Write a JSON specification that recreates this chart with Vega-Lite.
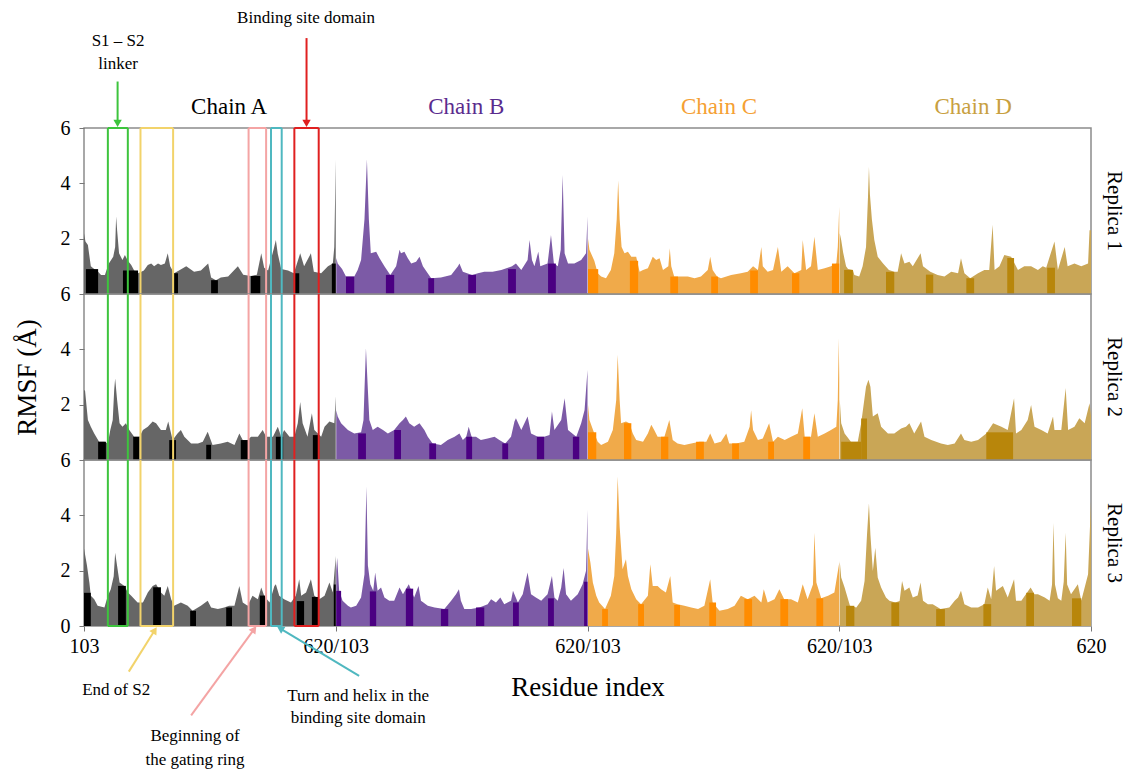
{
"$schema": "https://vega.github.io/schema/vega-lite/v6.json",
"background": "white",
"padding": {"left": 12, "top": 8, "right": 0, "bottom": 0},
"bounds": "flush",
"spacing": 0,
"config": {
  "font": "Liberation Serif",
  "view": {"stroke": "#8c8c8c", "strokeWidth": 1.5},
  "axis": {"labelFont": "Liberation Serif", "labelFontSize": 20, "labelColor": "#000", "titleFont": "Liberation Serif", "titleFontSize": 27, "titleFontWeight": "normal", "titleColor": "#000", "tickColor": "#777", "tickSize": 5, "domain": false, "grid": false},
  "axisX": {"labelPadding": 5, "titlePadding": 18},
  "axisY": {"labelPadding": 9, "titlePadding": 19},
  "mark": {"font": "Liberation Serif"},
  "text": {"font": "Liberation Serif"}
},
"datasets": {
"r1": [
{"c":"A","g":0,"v":2.2},{"c":"A","g":3,"v":1.9},{"c":"A","g":8,"v":1.77},{"c":"A","g":14,"v":1.0},{"c":"A","g":21,"v":0.9},{"c":"A","g":29,"v":0.8},{"c":"A","g":35,"v":0.69},{"c":"A","g":43,"v":0.69},{"c":"A","g":47,"v":0.9},{"c":"A","g":51,"v":1.1},{"c":"A","g":60,"v":1.35},{"c":"A","g":64,"v":1.7},{"c":"A","g":66,"v":2.8},{"c":"A","g":68,"v":2.3},{"c":"A","g":72,"v":1.47},{"c":"A","g":79,"v":1.23},{"c":"A","g":84,"v":1.41},{"c":"A","g":90,"v":1.2},{"c":"A","g":97,"v":1.05},{"c":"A","g":103,"v":0.85},{"c":"A","g":111,"v":0.75},{"c":"A","g":123,"v":0.85},{"c":"A","g":131,"v":1.05},{"c":"A","g":138,"v":1.1},{"c":"A","g":144,"v":1.0},{"c":"A","g":152,"v":1.1},{"c":"A","g":158,"v":1.05},{"c":"A","g":166,"v":1.1},{"c":"A","g":172,"v":1.47},{"c":"A","g":177,"v":1.0},{"c":"A","g":185,"v":0.75},{"c":"A","g":195,"v":0.85},{"c":"A","g":210,"v":1.0},{"c":"A","g":226,"v":0.8},{"c":"A","g":240,"v":0.85},{"c":"A","g":255,"v":1.1},{"c":"A","g":261,"v":0.6},{"c":"A","g":271,"v":0.5},{"c":"A","g":281,"v":0.6},{"c":"A","g":296,"v":0.63},{"c":"A","g":316,"v":1.0},{"c":"A","g":327,"v":0.7},{"c":"A","g":343,"v":0.65},{"c":"A","g":355,"v":0.7},{"c":"A","g":364,"v":1.47},{"c":"A","g":370,"v":0.95},{"c":"A","g":378,"v":0.85},{"c":"A","g":390,"v":1.65},{"c":"A","g":394,"v":1.95},{"c":"A","g":398,"v":1.45},{"c":"A","g":405,"v":0.9},{"c":"A","g":419,"v":0.85},{"c":"A","g":431,"v":0.75},{"c":"A","g":444,"v":1.47},{"c":"A","g":452,"v":1.0},{"c":"A","g":466,"v":1.47},{"c":"A","g":472,"v":0.8},{"c":"A","g":487,"v":0.75},{"c":"A","g":501,"v":1.0},{"c":"A","g":511,"v":1.1},{"c":"A","g":514,"v":1.7},{"c":"A","g":517,"v":4.85},
{"c":"B","g":518,"v":1.3},{"c":"B","g":521,"v":1.1},{"c":"B","g":530,"v":0.9},{"c":"B","g":538,"v":0.63},{"c":"B","g":555,"v":0.63},{"c":"B","g":562,"v":0.87},{"c":"B","g":569,"v":1.23},{"c":"B","g":576,"v":2.7},{"c":"B","g":581,"v":4.87},{"c":"B","g":585,"v":2.7},{"c":"B","g":589,"v":1.47},{"c":"B","g":600,"v":1.53},{"c":"B","g":607,"v":1.29},{"c":"B","g":617,"v":1.0},{"c":"B","g":629,"v":0.69},{"c":"B","g":641,"v":1.0},{"c":"B","g":648,"v":1.6},{"c":"B","g":651,"v":1.47},{"c":"B","g":658,"v":1.53},{"c":"B","g":665,"v":1.29},{"c":"B","g":672,"v":1.1},{"c":"B","g":682,"v":1.17},{"c":"B","g":689,"v":1.35},{"c":"B","g":696,"v":1.0},{"c":"B","g":713,"v":0.57},{"c":"B","g":733,"v":0.6},{"c":"B","g":754,"v":0.69},{"c":"B","g":768,"v":1.0},{"c":"B","g":771,"v":1.1},{"c":"B","g":778,"v":0.8},{"c":"B","g":797,"v":0.69},{"c":"B","g":809,"v":0.75},{"c":"B","g":822,"v":0.8},{"c":"B","g":839,"v":0.8},{"c":"B","g":857,"v":0.87},{"c":"B","g":879,"v":1.0},{"c":"B","g":887,"v":1.1},{"c":"B","g":898,"v":0.87},{"c":"B","g":911,"v":1.23},{"c":"B","g":915,"v":1.95},{"c":"B","g":920,"v":1.23},{"c":"B","g":925,"v":1.0},{"c":"B","g":933,"v":1.53},{"c":"B","g":937,"v":1.0},{"c":"B","g":952,"v":1.1},{"c":"B","g":959,"v":2.13},{"c":"B","g":965,"v":1.1},{"c":"B","g":973,"v":1.0},{"c":"B","g":979,"v":1.6},{"c":"B","g":983,"v":4.3},{"c":"B","g":987,"v":1.47},{"c":"B","g":994,"v":1.1},{"c":"B","g":1007,"v":1.1},{"c":"B","g":1021,"v":1.23},{"c":"B","g":1031,"v":1.47},{"c":"B","g":1034,"v":2.8},
{"c":"C","g":1035,"v":2.0},{"c":"C","g":1038,"v":1.6},{"c":"C","g":1048,"v":1.2},{"c":"C","g":1055,"v":0.75},{"c":"C","g":1062,"v":0.63},{"c":"C","g":1072,"v":0.57},{"c":"C","g":1082,"v":0.87},{"c":"C","g":1089,"v":1.47},{"c":"C","g":1094,"v":2.7},{"c":"C","g":1097,"v":4.1},{"c":"C","g":1100,"v":2.7},{"c":"C","g":1104,"v":1.7},{"c":"C","g":1110,"v":1.47},{"c":"C","g":1117,"v":1.53},{"c":"C","g":1124,"v":1.35},{"c":"C","g":1134,"v":1.35},{"c":"C","g":1141,"v":0.8},{"c":"C","g":1148,"v":0.87},{"c":"C","g":1158,"v":0.93},{"c":"C","g":1168,"v":1.35},{"c":"C","g":1175,"v":1.23},{"c":"C","g":1182,"v":1.29},{"c":"C","g":1189,"v":0.87},{"c":"C","g":1200,"v":1.0},{"c":"C","g":1203,"v":1.65},{"c":"C","g":1206,"v":1.0},{"c":"C","g":1212,"v":0.63},{"c":"C","g":1226,"v":0.63},{"c":"C","g":1240,"v":0.63},{"c":"C","g":1254,"v":0.57},{"c":"C","g":1267,"v":0.63},{"c":"C","g":1281,"v":0.87},{"c":"C","g":1286,"v":1.35},{"c":"C","g":1291,"v":0.87},{"c":"C","g":1300,"v":0.63},{"c":"C","g":1308,"v":0.57},{"c":"C","g":1329,"v":0.69},{"c":"C","g":1349,"v":0.75},{"c":"C","g":1363,"v":0.8},{"c":"C","g":1374,"v":1.0},{"c":"C","g":1384,"v":0.87},{"c":"C","g":1391,"v":1.7},{"c":"C","g":1394,"v":1.0},{"c":"C","g":1404,"v":0.8},{"c":"C","g":1415,"v":0.87},{"c":"C","g":1425,"v":1.7},{"c":"C","g":1432,"v":0.8},{"c":"C","g":1445,"v":1.0},{"c":"C","g":1459,"v":0.75},{"c":"C","g":1473,"v":0.87},{"c":"C","g":1476,"v":1.95},{"c":"C","g":1483,"v":0.87},{"c":"C","g":1493,"v":1.0},{"c":"C","g":1500,"v":2.07},{"c":"C","g":1507,"v":0.87},{"c":"C","g":1521,"v":0.93},{"c":"C","g":1534,"v":1.0},{"c":"C","g":1545,"v":1.1},{"c":"C","g":1548,"v":1.7},{"c":"C","g":1551,"v":3.15},
{"c":"D","g":1552,"v":2.2},{"c":"D","g":1555,"v":1.95},{"c":"D","g":1559,"v":1.5},{"c":"D","g":1565,"v":1.0},{"c":"D","g":1569,"v":0.9},{"c":"D","g":1579,"v":0.87},{"c":"D","g":1582,"v":0.69},{"c":"D","g":1592,"v":0.63},{"c":"D","g":1599,"v":1.0},{"c":"D","g":1606,"v":1.7},{"c":"D","g":1610,"v":3.5},{"c":"D","g":1612,"v":4.6},{"c":"D","g":1614,"v":3.6},{"c":"D","g":1618,"v":2.7},{"c":"D","g":1623,"v":1.95},{"c":"D","g":1630,"v":1.35},{"c":"D","g":1641,"v":1.1},{"c":"D","g":1653,"v":0.87},{"c":"D","g":1664,"v":0.8},{"c":"D","g":1671,"v":0.8},{"c":"D","g":1678,"v":1.47},{"c":"D","g":1685,"v":1.1},{"c":"D","g":1695,"v":1.17},{"c":"D","g":1702,"v":1.0},{"c":"D","g":1718,"v":1.47},{"c":"D","g":1723,"v":1.0},{"c":"D","g":1738,"v":0.8},{"c":"D","g":1753,"v":0.69},{"c":"D","g":1767,"v":0.63},{"c":"D","g":1781,"v":0.8},{"c":"D","g":1795,"v":0.75},{"c":"D","g":1801,"v":1.29},{"c":"D","g":1808,"v":0.75},{"c":"D","g":1820,"v":0.57},{"c":"D","g":1836,"v":0.75},{"c":"D","g":1849,"v":0.87},{"c":"D","g":1859,"v":0.87},{"c":"D","g":1866,"v":2.5},{"c":"D","g":1870,"v":0.87},{"c":"D","g":1880,"v":1.0},{"c":"D","g":1890,"v":1.41},{"c":"D","g":1904,"v":1.35},{"c":"D","g":1918,"v":0.87},{"c":"D","g":1931,"v":1.0},{"c":"D","g":1945,"v":1.0},{"c":"D","g":1959,"v":0.87},{"c":"D","g":1969,"v":1.0},{"c":"D","g":1976,"v":0.95},{"c":"D","g":1993,"v":1.9},{"c":"D","g":2000,"v":0.87},{"c":"D","g":2014,"v":1.7},{"c":"D","g":2020,"v":1.0},{"c":"D","g":2034,"v":1.1},{"c":"D","g":2048,"v":1.0},{"c":"D","g":2062,"v":1.1},{"c":"D","g":2065,"v":2.3},{"c":"D","g":2068,"v":2.3}
],
"r2": [
{"c":"A","g":0,"v":2.5},{"c":"A","g":2,"v":2.53},{"c":"A","g":8,"v":1.45},{"c":"A","g":14,"v":1.2},{"c":"A","g":21,"v":0.96},{"c":"A","g":31,"v":0.66},{"c":"A","g":42,"v":0.66},{"c":"A","g":49,"v":0.6},{"c":"A","g":54,"v":1.08},{"c":"A","g":59,"v":1.45},{"c":"A","g":62,"v":2.53},{"c":"A","g":64,"v":2.95},{"c":"A","g":68,"v":2.17},{"c":"A","g":73,"v":1.33},{"c":"A","g":79,"v":1.2},{"c":"A","g":86,"v":1.33},{"c":"A","g":93,"v":1.08},{"c":"A","g":103,"v":0.84},{"c":"A","g":114,"v":0.84},{"c":"A","g":121,"v":1.08},{"c":"A","g":131,"v":1.2},{"c":"A","g":141,"v":1.39},{"c":"A","g":148,"v":1.33},{"c":"A","g":158,"v":1.08},{"c":"A","g":168,"v":1.08},{"c":"A","g":173,"v":1.39},{"c":"A","g":182,"v":0.72},{"c":"A","g":192,"v":0.96},{"c":"A","g":199,"v":1.08},{"c":"A","g":206,"v":0.84},{"c":"A","g":220,"v":0.6},{"c":"A","g":234,"v":0.6},{"c":"A","g":244,"v":0.66},{"c":"A","g":254,"v":1.02},{"c":"A","g":264,"v":0.54},{"c":"A","g":281,"v":0.6},{"c":"A","g":295,"v":0.66},{"c":"A","g":309,"v":0.54},{"c":"A","g":319,"v":0.96},{"c":"A","g":326,"v":0.72},{"c":"A","g":336,"v":0.72},{"c":"A","g":343,"v":0.84},{"c":"A","g":357,"v":0.84},{"c":"A","g":367,"v":1.08},{"c":"A","g":374,"v":0.84},{"c":"A","g":388,"v":0.84},{"c":"A","g":398,"v":1.2},{"c":"A","g":405,"v":0.84},{"c":"A","g":411,"v":1.08},{"c":"A","g":422,"v":0.84},{"c":"A","g":432,"v":0.84},{"c":"A","g":439,"v":1.33},{"c":"A","g":444,"v":2.1},{"c":"A","g":449,"v":1.33},{"c":"A","g":459,"v":0.84},{"c":"A","g":468,"v":1.69},{"c":"A","g":473,"v":1.08},{"c":"A","g":487,"v":0.84},{"c":"A","g":494,"v":1.2},{"c":"A","g":504,"v":1.39},{"c":"A","g":514,"v":1.33},{"c":"A","g":517,"v":2.3},
{"c":"B","g":518,"v":1.8},{"c":"B","g":521,"v":1.57},{"c":"B","g":528,"v":1.33},{"c":"B","g":542,"v":1.08},{"c":"B","g":555,"v":0.96},{"c":"B","g":569,"v":1.0},{"c":"B","g":574,"v":1.45},{"c":"B","g":576,"v":2.53},{"c":"B","g":579,"v":4.04},{"c":"B","g":583,"v":2.53},{"c":"B","g":586,"v":1.45},{"c":"B","g":593,"v":1.08},{"c":"B","g":603,"v":1.2},{"c":"B","g":614,"v":1.08},{"c":"B","g":624,"v":0.96},{"c":"B","g":637,"v":1.08},{"c":"B","g":648,"v":1.33},{"c":"B","g":655,"v":1.45},{"c":"B","g":661,"v":1.57},{"c":"B","g":668,"v":1.33},{"c":"B","g":678,"v":1.2},{"c":"B","g":689,"v":1.33},{"c":"B","g":699,"v":1.08},{"c":"B","g":706,"v":0.84},{"c":"B","g":716,"v":0.6},{"c":"B","g":733,"v":0.54},{"c":"B","g":747,"v":0.72},{"c":"B","g":761,"v":0.84},{"c":"B","g":771,"v":0.96},{"c":"B","g":778,"v":0.72},{"c":"B","g":785,"v":0.84},{"c":"B","g":790,"v":1.2},{"c":"B","g":796,"v":0.84},{"c":"B","g":805,"v":0.84},{"c":"B","g":815,"v":0.72},{"c":"B","g":829,"v":0.78},{"c":"B","g":843,"v":0.84},{"c":"B","g":853,"v":0.72},{"c":"B","g":865,"v":0.6},{"c":"B","g":877,"v":0.84},{"c":"B","g":884,"v":1.39},{"c":"B","g":887,"v":1.51},{"c":"B","g":898,"v":1.08},{"c":"B","g":911,"v":1.57},{"c":"B","g":918,"v":0.96},{"c":"B","g":932,"v":0.84},{"c":"B","g":945,"v":0.84},{"c":"B","g":956,"v":0.9},{"c":"B","g":961,"v":1.75},{"c":"B","g":966,"v":1.08},{"c":"B","g":980,"v":1.45},{"c":"B","g":987,"v":2.23},{"c":"B","g":994,"v":1.08},{"c":"B","g":1011,"v":0.84},{"c":"B","g":1021,"v":1.33},{"c":"B","g":1028,"v":1.81},{"c":"B","g":1034,"v":3.25},
{"c":"C","g":1035,"v":2.0},{"c":"C","g":1038,"v":1.45},{"c":"C","g":1048,"v":0.96},{"c":"C","g":1055,"v":0.66},{"c":"C","g":1062,"v":0.54},{"c":"C","g":1076,"v":0.66},{"c":"C","g":1086,"v":1.08},{"c":"C","g":1093,"v":2.17},{"c":"C","g":1096,"v":3.8},{"c":"C","g":1100,"v":2.17},{"c":"C","g":1103,"v":1.33},{"c":"C","g":1113,"v":1.39},{"c":"C","g":1120,"v":1.33},{"c":"C","g":1127,"v":0.96},{"c":"C","g":1134,"v":0.72},{"c":"C","g":1148,"v":0.66},{"c":"C","g":1158,"v":0.96},{"c":"C","g":1165,"v":1.27},{"c":"C","g":1171,"v":1.08},{"c":"C","g":1178,"v":0.84},{"c":"C","g":1192,"v":0.84},{"c":"C","g":1202,"v":1.45},{"c":"C","g":1209,"v":0.72},{"c":"C","g":1219,"v":0.6},{"c":"C","g":1233,"v":0.54},{"c":"C","g":1247,"v":0.6},{"c":"C","g":1264,"v":0.66},{"c":"C","g":1278,"v":0.66},{"c":"C","g":1286,"v":0.96},{"c":"C","g":1295,"v":0.6},{"c":"C","g":1308,"v":0.66},{"c":"C","g":1319,"v":0.96},{"c":"C","g":1325,"v":0.6},{"c":"C","g":1339,"v":0.6},{"c":"C","g":1356,"v":0.66},{"c":"C","g":1367,"v":1.2},{"c":"C","g":1370,"v":1.8},{"c":"C","g":1374,"v":1.08},{"c":"C","g":1384,"v":0.72},{"c":"C","g":1394,"v":0.78},{"c":"C","g":1407,"v":1.33},{"c":"C","g":1415,"v":0.66},{"c":"C","g":1425,"v":0.84},{"c":"C","g":1439,"v":0.72},{"c":"C","g":1452,"v":0.84},{"c":"C","g":1466,"v":0.96},{"c":"C","g":1475,"v":1.87},{"c":"C","g":1480,"v":0.84},{"c":"C","g":1493,"v":0.84},{"c":"C","g":1500,"v":1.69},{"c":"C","g":1507,"v":0.84},{"c":"C","g":1521,"v":0.96},{"c":"C","g":1534,"v":1.08},{"c":"C","g":1545,"v":1.2},{"c":"C","g":1548,"v":2.17},{"c":"C","g":1550,"v":4.4},{"c":"C","g":1551,"v":3.0},
{"c":"D","g":1552,"v":2.2},{"c":"D","g":1555,"v":1.33},{"c":"D","g":1562,"v":0.96},{"c":"D","g":1575,"v":0.66},{"c":"D","g":1589,"v":0.66},{"c":"D","g":1596,"v":1.33},{"c":"D","g":1606,"v":2.65},{"c":"D","g":1611,"v":2.9},{"c":"D","g":1615,"v":2.65},{"c":"D","g":1620,"v":1.57},{"c":"D","g":1630,"v":1.69},{"c":"D","g":1637,"v":1.2},{"c":"D","g":1651,"v":0.96},{"c":"D","g":1664,"v":0.96},{"c":"D","g":1678,"v":1.14},{"c":"D","g":1688,"v":1.2},{"c":"D","g":1695,"v":1.33},{"c":"D","g":1705,"v":0.96},{"c":"D","g":1719,"v":1.39},{"c":"D","g":1726,"v":0.84},{"c":"D","g":1740,"v":0.72},{"c":"D","g":1760,"v":0.6},{"c":"D","g":1774,"v":0.54},{"c":"D","g":1788,"v":0.6},{"c":"D","g":1801,"v":0.96},{"c":"D","g":1808,"v":0.72},{"c":"D","g":1822,"v":0.66},{"c":"D","g":1836,"v":0.72},{"c":"D","g":1853,"v":0.96},{"c":"D","g":1867,"v":1.33},{"c":"D","g":1884,"v":1.2},{"c":"D","g":1897,"v":1.08},{"c":"D","g":1910,"v":2.23},{"c":"D","g":1914,"v":0.96},{"c":"D","g":1925,"v":1.08},{"c":"D","g":1938,"v":1.45},{"c":"D","g":1945,"v":1.99},{"c":"D","g":1952,"v":1.2},{"c":"D","g":1966,"v":1.08},{"c":"D","g":1979,"v":0.96},{"c":"D","g":1990,"v":1.57},{"c":"D","g":1993,"v":1.08},{"c":"D","g":2007,"v":1.08},{"c":"D","g":2016,"v":2.6},{"c":"D","g":2021,"v":1.08},{"c":"D","g":2034,"v":1.2},{"c":"D","g":2044,"v":1.51},{"c":"D","g":2055,"v":1.33},{"c":"D","g":2065,"v":2.05},{"c":"D","g":2068,"v":1.6}
],
"r3": [
{"c":"A","g":0,"v":2.8},{"c":"A","g":6,"v":2.2},{"c":"A","g":11,"v":1.57},{"c":"A","g":14,"v":1.09},{"c":"A","g":21,"v":0.97},{"c":"A","g":28,"v":0.73},{"c":"A","g":42,"v":0.67},{"c":"A","g":49,"v":1.09},{"c":"A","g":55,"v":1.33},{"c":"A","g":61,"v":1.8},{"c":"A","g":64,"v":2.65},{"c":"A","g":68,"v":2.17},{"c":"A","g":73,"v":1.57},{"c":"A","g":83,"v":1.45},{"c":"A","g":90,"v":1.21},{"c":"A","g":97,"v":1.09},{"c":"A","g":110,"v":0.85},{"c":"A","g":121,"v":0.85},{"c":"A","g":131,"v":1.21},{"c":"A","g":141,"v":1.45},{"c":"A","g":148,"v":1.51},{"c":"A","g":158,"v":1.21},{"c":"A","g":165,"v":1.09},{"c":"A","g":172,"v":1.45},{"c":"A","g":179,"v":0.97},{"c":"A","g":185,"v":0.73},{"c":"A","g":199,"v":0.85},{"c":"A","g":213,"v":0.73},{"c":"A","g":223,"v":0.55},{"c":"A","g":240,"v":0.73},{"c":"A","g":254,"v":0.91},{"c":"A","g":261,"v":0.67},{"c":"A","g":275,"v":0.61},{"c":"A","g":288,"v":0.67},{"c":"A","g":298,"v":0.73},{"c":"A","g":309,"v":0.73},{"c":"A","g":319,"v":1.45},{"c":"A","g":326,"v":0.85},{"c":"A","g":336,"v":0.73},{"c":"A","g":346,"v":1.09},{"c":"A","g":357,"v":0.97},{"c":"A","g":364,"v":1.39},{"c":"A","g":370,"v":1.09},{"c":"A","g":381,"v":0.85},{"c":"A","g":391,"v":1.45},{"c":"A","g":394,"v":1.51},{"c":"A","g":401,"v":1.09},{"c":"A","g":411,"v":0.97},{"c":"A","g":425,"v":0.85},{"c":"A","g":435,"v":1.09},{"c":"A","g":442,"v":1.69},{"c":"A","g":446,"v":1.09},{"c":"A","g":456,"v":1.21},{"c":"A","g":466,"v":1.69},{"c":"A","g":473,"v":1.09},{"c":"A","g":483,"v":0.97},{"c":"A","g":494,"v":1.09},{"c":"A","g":504,"v":1.57},{"c":"A","g":511,"v":1.21},{"c":"A","g":517,"v":2.53},
{"c":"B","g":518,"v":2.0},{"c":"B","g":520,"v":2.47},{"c":"B","g":524,"v":1.27},{"c":"B","g":531,"v":0.91},{"c":"B","g":542,"v":0.73},{"c":"B","g":548,"v":0.67},{"c":"B","g":559,"v":0.73},{"c":"B","g":569,"v":1.03},{"c":"B","g":576,"v":1.87},{"c":"B","g":580,"v":5.04},{"c":"B","g":583,"v":2.2},{"c":"B","g":588,"v":1.51},{"c":"B","g":594,"v":1.27},{"c":"B","g":598,"v":1.93},{"c":"B","g":603,"v":1.27},{"c":"B","g":610,"v":1.39},{"c":"B","g":617,"v":1.03},{"c":"B","g":627,"v":0.91},{"c":"B","g":637,"v":0.91},{"c":"B","g":648,"v":1.39},{"c":"B","g":655,"v":1.15},{"c":"B","g":667,"v":1.51},{"c":"B","g":678,"v":1.03},{"c":"B","g":687,"v":1.45},{"c":"B","g":692,"v":0.91},{"c":"B","g":706,"v":0.73},{"c":"B","g":720,"v":0.67},{"c":"B","g":740,"v":0.61},{"c":"B","g":754,"v":0.91},{"c":"B","g":764,"v":1.15},{"c":"B","g":770,"v":1.33},{"c":"B","g":774,"v":0.91},{"c":"B","g":781,"v":0.61},{"c":"B","g":795,"v":0.61},{"c":"B","g":812,"v":0.67},{"c":"B","g":829,"v":0.79},{"c":"B","g":836,"v":0.97},{"c":"B","g":846,"v":0.85},{"c":"B","g":855,"v":1.03},{"c":"B","g":863,"v":0.79},{"c":"B","g":877,"v":0.91},{"c":"B","g":881,"v":1.27},{"c":"B","g":891,"v":0.85},{"c":"B","g":901,"v":1.15},{"c":"B","g":911,"v":1.93},{"c":"B","g":918,"v":1.15},{"c":"B","g":928,"v":1.03},{"c":"B","g":939,"v":0.91},{"c":"B","g":952,"v":1.15},{"c":"B","g":961,"v":1.81},{"c":"B","g":966,"v":1.03},{"c":"B","g":973,"v":0.91},{"c":"B","g":980,"v":1.39},{"c":"B","g":985,"v":2.1},{"c":"B","g":990,"v":1.15},{"c":"B","g":1000,"v":0.91},{"c":"B","g":1014,"v":1.15},{"c":"B","g":1024,"v":1.51},{"c":"B","g":1031,"v":2.0},{"c":"B","g":1034,"v":4.2},
{"c":"C","g":1035,"v":2.8},{"c":"C","g":1040,"v":2.29},{"c":"C","g":1045,"v":1.57},{"c":"C","g":1052,"v":1.09},{"c":"C","g":1058,"v":0.85},{"c":"C","g":1070,"v":0.61},{"c":"C","g":1082,"v":1.09},{"c":"C","g":1089,"v":1.81},{"c":"C","g":1093,"v":3.37},{"c":"C","g":1096,"v":5.4},{"c":"C","g":1100,"v":3.6},{"c":"C","g":1106,"v":2.05},{"c":"C","g":1113,"v":2.41},{"c":"C","g":1117,"v":1.81},{"c":"C","g":1124,"v":1.33},{"c":"C","g":1134,"v":0.97},{"c":"C","g":1144,"v":0.79},{"c":"C","g":1158,"v":1.09},{"c":"C","g":1163,"v":2.23},{"c":"C","g":1168,"v":1.45},{"c":"C","g":1178,"v":1.45},{"c":"C","g":1185,"v":1.33},{"c":"C","g":1195,"v":1.21},{"c":"C","g":1204,"v":1.81},{"c":"C","g":1209,"v":0.85},{"c":"C","g":1219,"v":0.79},{"c":"C","g":1233,"v":0.73},{"c":"C","g":1247,"v":0.67},{"c":"C","g":1261,"v":0.61},{"c":"C","g":1274,"v":0.73},{"c":"C","g":1286,"v":1.69},{"c":"C","g":1291,"v":0.85},{"c":"C","g":1305,"v":0.55},{"c":"C","g":1322,"v":0.61},{"c":"C","g":1336,"v":0.73},{"c":"C","g":1349,"v":1.09},{"c":"C","g":1363,"v":0.97},{"c":"C","g":1377,"v":1.09},{"c":"C","g":1391,"v":0.85},{"c":"C","g":1396,"v":1.33},{"c":"C","g":1404,"v":0.85},{"c":"C","g":1418,"v":0.97},{"c":"C","g":1428,"v":1.33},{"c":"C","g":1438,"v":0.97},{"c":"C","g":1452,"v":0.97},{"c":"C","g":1466,"v":0.85},{"c":"C","g":1476,"v":1.51},{"c":"C","g":1486,"v":0.97},{"c":"C","g":1497,"v":1.5},{"c":"C","g":1500,"v":3.37},{"c":"C","g":1504,"v":1.57},{"c":"C","g":1514,"v":1.0},{"c":"C","g":1528,"v":1.09},{"c":"C","g":1541,"v":1.21},{"c":"C","g":1551,"v":2.29},
{"c":"D","g":1552,"v":2.35},{"c":"D","g":1555,"v":1.75},{"c":"D","g":1562,"v":1.39},{"c":"D","g":1573,"v":0.73},{"c":"D","g":1586,"v":0.67},{"c":"D","g":1596,"v":0.91},{"c":"D","g":1603,"v":1.63},{"c":"D","g":1608,"v":3.3},{"c":"D","g":1612,"v":4.44},{"c":"D","g":1615,"v":3.3},{"c":"D","g":1620,"v":1.99},{"c":"D","g":1625,"v":2.83},{"c":"D","g":1630,"v":1.75},{"c":"D","g":1637,"v":1.39},{"c":"D","g":1647,"v":1.03},{"c":"D","g":1654,"v":0.91},{"c":"D","g":1666,"v":0.85},{"c":"D","g":1675,"v":0.9},{"c":"D","g":1680,"v":1.63},{"c":"D","g":1685,"v":1.27},{"c":"D","g":1695,"v":1.39},{"c":"D","g":1702,"v":1.03},{"c":"D","g":1712,"v":1.1},{"c":"D","g":1718,"v":1.57},{"c":"D","g":1723,"v":0.91},{"c":"D","g":1733,"v":0.79},{"c":"D","g":1743,"v":0.79},{"c":"D","g":1759,"v":0.61},{"c":"D","g":1777,"v":0.67},{"c":"D","g":1788,"v":0.91},{"c":"D","g":1795,"v":1.03},{"c":"D","g":1801,"v":1.27},{"c":"D","g":1808,"v":0.79},{"c":"D","g":1822,"v":0.67},{"c":"D","g":1836,"v":0.67},{"c":"D","g":1849,"v":0.79},{"c":"D","g":1856,"v":1.39},{"c":"D","g":1863,"v":0.97},{"c":"D","g":1869,"v":2.17},{"c":"D","g":1873,"v":1.27},{"c":"D","g":1887,"v":1.45},{"c":"D","g":1897,"v":1.03},{"c":"D","g":1910,"v":1.69},{"c":"D","g":1914,"v":0.91},{"c":"D","g":1925,"v":0.91},{"c":"D","g":1944,"v":1.39},{"c":"D","g":1952,"v":1.15},{"c":"D","g":1959,"v":1.15},{"c":"D","g":1973,"v":1.03},{"c":"D","g":1983,"v":0.91},{"c":"D","g":1988,"v":1.5},{"c":"D","g":1991,"v":3.72},{"c":"D","g":1994,"v":1.5},{"c":"D","g":2000,"v":1.0},{"c":"D","g":2007,"v":0.91},{"c":"D","g":2012,"v":1.6},{"c":"D","g":2016,"v":3.37},{"c":"D","g":2019,"v":1.5},{"c":"D","g":2027,"v":1.15},{"c":"D","g":2041,"v":1.51},{"c":"D","g":2048,"v":0.91},{"c":"D","g":2055,"v":1.39},{"c":"D","g":2062,"v":1.87},{"c":"D","g":2068,"v":4.5}
],
"d1": [
{"c":"A","g1":4,"g2":29,"h":0.9},{"c":"A","g1":80,"g2":111,"h":0.85},{"c":"A","g1":185,"g2":193,"h":0.75},{"c":"A","g1":261,"g2":275,"h":0.5},{"c":"A","g1":343,"g2":362,"h":0.65},{"c":"A","g1":431,"g2":442,"h":0.75},{"c":"A","g1":509,"g2":517,"h":1.1},
{"c":"B","g1":538,"g2":555,"h":0.63},{"c":"B","g1":620,"g2":637,"h":0.69},{"c":"B","g1":707,"g2":719,"h":0.57},{"c":"B","g1":789,"g2":805,"h":0.69},{"c":"B","g1":871,"g2":887,"h":0.9},{"c":"B","g1":953,"g2":969,"h":1.1},
{"c":"C","g1":1035,"g2":1056,"h":0.9},{"c":"C","g1":1121,"g2":1138,"h":1.2},{"c":"C","g1":1204,"g2":1220,"h":0.63},{"c":"C","g1":1288,"g2":1302,"h":0.63},{"c":"C","g1":1368,"g2":1384,"h":0.85},{"c":"C","g1":1454,"g2":1469,"h":0.75},{"c":"C","g1":1536,"g2":1551,"h":1.1},
{"c":"D","g1":1561,"g2":1579,"h":0.87},{"c":"D","g1":1647,"g2":1664,"h":0.8},{"c":"D","g1":1729,"g2":1744,"h":0.7},{"c":"D","g1":1812,"g2":1828,"h":0.57},{"c":"D","g1":1896,"g2":1910,"h":1.3},{"c":"D","g1":1978,"g2":1994,"h":0.95}
],
"d2": [
{"c":"A","g1":29,"g2":45,"h":0.66},{"c":"A","g1":101,"g2":113,"h":0.84},{"c":"A","g1":175,"g2":189,"h":0.72},{"c":"A","g1":251,"g2":261,"h":0.55},{"c":"A","g1":322,"g2":337,"h":0.72},{"c":"A","g1":394,"g2":409,"h":0.84},{"c":"A","g1":470,"g2":483,"h":0.9},
{"c":"B","g1":563,"g2":579,"h":0.96},{"c":"B","g1":637,"g2":651,"h":1.08},{"c":"B","g1":709,"g2":723,"h":0.6},{"c":"B","g1":785,"g2":797,"h":0.84},{"c":"B","g1":859,"g2":871,"h":0.6},{"c":"B","g1":930,"g2":945,"h":0.84},{"c":"B","g1":1004,"g2":1017,"h":0.84},
{"c":"C","g1":1035,"g2":1052,"h":1.0},{"c":"C","g1":1109,"g2":1124,"h":1.33},{"c":"C","g1":1185,"g2":1200,"h":0.84},{"c":"C","g1":1257,"g2":1273,"h":0.66},{"c":"C","g1":1331,"g2":1345,"h":0.6},{"c":"C","g1":1405,"g2":1417,"h":0.66},{"c":"C","g1":1477,"g2":1491,"h":0.84},
{"c":"D","g1":1555,"g2":1596,"h":0.66},{"c":"D","g1":1596,"g2":1608,"h":1.5},{"c":"D","g1":1853,"g2":1908,"h":1.0}
],
"d3": [
{"c":"A","g1":0,"g2":14,"h":1.2},{"c":"A","g1":70,"g2":86,"h":1.45},{"c":"A","g1":142,"g2":158,"h":1.4},{"c":"A","g1":218,"g2":230,"h":0.55},{"c":"A","g1":292,"g2":304,"h":0.67},{"c":"A","g1":361,"g2":372,"h":1.1},{"c":"A","g1":437,"g2":452,"h":0.9},{"c":"A","g1":468,"g2":481,"h":1.05},{"c":"A","g1":513,"g2":517,"h":1.5},
{"c":"B","g1":518,"g2":528,"h":1.27},{"c":"B","g1":587,"g2":600,"h":1.25},{"c":"B","g1":661,"g2":676,"h":1.35},{"c":"B","g1":733,"g2":748,"h":0.61},{"c":"B","g1":805,"g2":822,"h":0.67},{"c":"B","g1":881,"g2":893,"h":0.85},{"c":"B","g1":953,"g2":965,"h":1.0},{"c":"B","g1":1027,"g2":1034,"h":1.6},
{"c":"C","g1":1064,"g2":1076,"h":0.61},{"c":"C","g1":1138,"g2":1150,"h":0.79},{"c":"C","g1":1212,"g2":1224,"h":0.76},{"c":"C","g1":1284,"g2":1298,"h":0.85},{"c":"C","g1":1356,"g2":1372,"h":0.97},{"c":"C","g1":1430,"g2":1446,"h":0.97},{"c":"C","g1":1504,"g2":1518,"h":1.0},
{"c":"D","g1":1565,"g2":1582,"h":0.73},{"c":"D","g1":1658,"g2":1674,"h":0.85},{"c":"D","g1":1750,"g2":1768,"h":0.61},{"c":"D","g1":1847,"g2":1863,"h":0.79},{"c":"D","g1":1935,"g2":1951,"h":1.2},{"c":"D","g1":2029,"g2":2048,"h":1.0}
],
"boxes": [
{"b":"green","x1":49,"x2":90},{"b":"yellow","x1":116,"x2":183},{"b":"pink","x1":338,"x2":374},{"b":"cyan","x1":384,"x2":406},{"b":"red","x1":432,"x2":482}
],
"chains": [
{"t":"Chain A","g":298,"v":6.76,"c":"LA"},{"t":"Chain B","g":785,"v":6.76,"c":"LB"},{"t":"Chain C","g":1304,"v":6.76,"c":"LC"},{"t":"Chain D","g":1826,"v":6.76,"c":"LD"}
],
"topNotes": [
{"t":"Binding site domain","g":456,"v":9.98},{"t":"S1 – S2","g":70,"v":9.14},{"t":"linker","g":70,"v":8.31}
],
"bottomNotes": [
{"t":"End of S2","g":66,"v":-2.3},{"t":"Beginning of","g":228,"v":-3.99},{"t":"the gating ring","g":228,"v":-4.85},{"t":"Turn and helix in the","g":563,"v":-2.52},{"t":"binding site domain","g":563,"v":-3.31}
],
"topArrows": [
{"b":"green","g1":69,"v1":7.68,"g2":69,"v2":6.2},{"b":"red","g1":457,"v1":9.25,"g2":457,"v2":6.2}
],
"topHeads": [
{"b":"green","g":69,"v":6.17},{"b":"red","g":457,"v":6.17}
],
"bottomArrows": [
{"b":"yellow","g1":92,"v1":-1.65,"g2":144,"v2":-0.19},{"b":"pink","g1":220,"v1":-3.23,"g2":348,"v2":-0.15},{"b":"cyan","g1":565,"v1":-1.8,"g2":405,"v2":-0.11}
],
"bottomHeads": [
{"b":"yellow","g":144,"v":-0.19},{"b":"pink","g":348,"v":-0.15},{"b":"cyan","g":405,"v":-0.11}
],
"rep1": [{"t":"Replica 1","g":2116,"v":3}],
"rep2": [{"t":"Replica 2","g":2116,"v":3}],
"rep3": [{"t":"Replica 3","g":2116,"v":3}]
},
"vconcat": [
{
 "width": 1007, "height": 166,
 "layer": [
  {"data": {"name": "r1"}, "mark": {"type": "area", "interpolate": "linear"},
   "encoding": {
    "x": {"field": "g", "type": "quantitative", "scale": {"domain": [0, 2068], "nice": false, "zero": false}, "axis": null},
    "y": {"field": "v", "type": "quantitative", "stack": null, "scale": {"domain": [0, 6], "nice": false}, "axis": {"values": [2, 4, 6], "title": null}},
    "color": {"field": "c", "type": "nominal", "legend": null, "scale": {"domain": ["A","B","C","D","LA","LB","LC","LD"], "range": ["#666666","#7c5aa6","#f0aa4a","#c9a656","#000000","#5a2b8e","#f5a033","#c8a040"]}}
   }},
  {"data": {"name": "d1"}, "mark": {"type": "rect"},
   "encoding": {
    "x": {"field": "g1", "type": "quantitative", "axis": null},
    "x2": {"field": "g2"},
    "y": {"field": "h", "type": "quantitative"},
    "y2": {"datum": 0},
    "fill": {"field": "c", "type": "nominal", "legend": null, "scale": {"domain": ["A","B","C","D","green","yellow","pink","cyan","red"], "range": ["#000000","#4b0082","#ff8c00","#b8860b","#3dc43d","#f2d36b","#f4a4a4","#4fb8c0","#e02020"]}}
   }},
  {"data": {"name": "boxes"}, "mark": {"type": "rule", "strokeWidth": 2},
   "encoding": {"x": {"field": "x1", "type": "quantitative", "axis": null}, "y": {"datum": 0}, "y2": {"datum": 6},
    "stroke": {"field": "b", "type": "nominal", "legend": null, "scale": {"domain": ["green","yellow","pink","cyan","red"], "range": ["#3dc43d","#f2d36b","#f4a4a4","#4fb8c0","#e02020"]}}}},
  {"data": {"name": "boxes"}, "mark": {"type": "rule", "strokeWidth": 2},
   "encoding": {"x": {"field": "x2", "type": "quantitative", "axis": null}, "y": {"datum": 0}, "y2": {"datum": 6},
    "stroke": {"field": "b", "type": "nominal", "legend": null}}},
  {"data": {"name": "boxes"}, "mark": {"type": "rule", "strokeWidth": 2},
   "encoding": {"x": {"field": "x1", "type": "quantitative", "axis": null}, "x2": {"field": "x2"}, "y": {"datum": 6},
    "stroke": {"field": "b", "type": "nominal", "legend": null}}},
  {"data": {"name": "topArrows"}, "mark": {"type": "rule", "strokeWidth": 2},
   "encoding": {"x": {"field": "g1", "type": "quantitative", "axis": null}, "x2": {"field": "g2"}, "y": {"field": "v1", "type": "quantitative"}, "y2": {"field": "v2"},
    "stroke": {"field": "b", "type": "nominal", "legend": null}}},
  {"data": {"name": "topHeads"}, "mark": {"type": "point", "shape": "triangle-down", "filled": true, "size": 70, "opacity": 1},
   "encoding": {"x": {"field": "g", "type": "quantitative", "axis": null}, "y": {"field": "v", "type": "quantitative"},
    "fill": {"field": "b", "type": "nominal", "legend": null}}},
  {"data": {"name": "topNotes"}, "mark": {"type": "text", "font": "Liberation Serif", "fontSize": 17, "align": "center", "baseline": "middle", "color": "#000"},
   "encoding": {"x": {"field": "g", "type": "quantitative", "axis": null}, "y": {"field": "v", "type": "quantitative"}, "text": {"field": "t"}}},
  {"data": {"name": "chains"}, "mark": {"type": "text", "font": "Liberation Serif", "fontSize": 23, "align": "center", "baseline": "middle"},
   "encoding": {"x": {"field": "g", "type": "quantitative", "axis": null}, "y": {"field": "v", "type": "quantitative"}, "text": {"field": "t"},
    "color": {"field": "c", "type": "nominal", "legend": null}}},
  {"data": {"name": "rep1"}, "mark": {"type": "text", "font": "Liberation Serif", "fontSize": 21, "align": "center", "baseline": "middle", "angle": 90, "color": "#000"},
   "encoding": {"x": {"field": "g", "type": "quantitative", "axis": null}, "y": {"field": "v", "type": "quantitative"}, "text": {"field": "t"}}}
 ]
},
{
 "width": 1007, "height": 166,
 "layer": [
  {"data": {"name": "r2"}, "mark": {"type": "area", "interpolate": "linear"},
   "encoding": {
    "x": {"field": "g", "type": "quantitative", "scale": {"domain": [0, 2068], "nice": false, "zero": false}, "axis": null},
    "y": {"field": "v", "type": "quantitative", "stack": null, "scale": {"domain": [0, 6], "nice": false}, "axis": {"values": [2, 4, 6], "title": "RMSF (Å)"}},
    "color": {"field": "c", "type": "nominal", "legend": null, "scale": {"domain": ["A","B","C","D","LA","LB","LC","LD"], "range": ["#666666","#7c5aa6","#f0aa4a","#c9a656","#000000","#5a2b8e","#f5a033","#c8a040"]}}
   }},
  {"data": {"name": "d2"}, "mark": {"type": "rect"},
   "encoding": {
    "x": {"field": "g1", "type": "quantitative", "axis": null},
    "x2": {"field": "g2"},
    "y": {"field": "h", "type": "quantitative"},
    "y2": {"datum": 0},
    "fill": {"field": "c", "type": "nominal", "legend": null, "scale": {"domain": ["A","B","C","D","green","yellow","pink","cyan","red"], "range": ["#000000","#4b0082","#ff8c00","#b8860b","#3dc43d","#f2d36b","#f4a4a4","#4fb8c0","#e02020"]}}
   }},
  {"data": {"name": "boxes"}, "mark": {"type": "rule", "strokeWidth": 2},
   "encoding": {"x": {"field": "x1", "type": "quantitative", "axis": null}, "y": {"datum": 0}, "y2": {"datum": 6},
    "stroke": {"field": "b", "type": "nominal", "legend": null, "scale": {"domain": ["green","yellow","pink","cyan","red"], "range": ["#3dc43d","#f2d36b","#f4a4a4","#4fb8c0","#e02020"]}}}},
  {"data": {"name": "boxes"}, "mark": {"type": "rule", "strokeWidth": 2},
   "encoding": {"x": {"field": "x2", "type": "quantitative", "axis": null}, "y": {"datum": 0}, "y2": {"datum": 6},
    "stroke": {"field": "b", "type": "nominal", "legend": null}}},
  {"data": {"name": "rep2"}, "mark": {"type": "text", "font": "Liberation Serif", "fontSize": 21, "align": "center", "baseline": "middle", "angle": 90, "color": "#000"},
   "encoding": {"x": {"field": "g", "type": "quantitative", "axis": null}, "y": {"field": "v", "type": "quantitative"}, "text": {"field": "t"}}}
 ]
},
{
 "width": 1007, "height": 166,
 "layer": [
  {"data": {"name": "r3"}, "mark": {"type": "area", "interpolate": "linear"},
   "encoding": {
    "x": {"field": "g", "type": "quantitative", "scale": {"domain": [0, 2068], "nice": false, "zero": false},
      "axis": {"values": [0, 517, 1034, 1551, 2068], "labelExpr": "datum.value == 0 ? '103' : (datum.value == 2068 ? '620' : '620/103')", "labelFlush": false, "labelOverlap": false, "title": "Residue index"}},
    "y": {"field": "v", "type": "quantitative", "stack": null, "scale": {"domain": [0, 6], "nice": false}, "axis": {"values": [0, 2, 4, 6], "title": null}},
    "color": {"field": "c", "type": "nominal", "legend": null, "scale": {"domain": ["A","B","C","D","LA","LB","LC","LD"], "range": ["#666666","#7c5aa6","#f0aa4a","#c9a656","#000000","#5a2b8e","#f5a033","#c8a040"]}}
   }},
  {"data": {"name": "d3"}, "mark": {"type": "rect"},
   "encoding": {
    "x": {"field": "g1", "type": "quantitative"},
    "x2": {"field": "g2"},
    "y": {"field": "h", "type": "quantitative"},
    "y2": {"datum": 0},
    "fill": {"field": "c", "type": "nominal", "legend": null, "scale": {"domain": ["A","B","C","D","green","yellow","pink","cyan","red"], "range": ["#000000","#4b0082","#ff8c00","#b8860b","#3dc43d","#f2d36b","#f4a4a4","#4fb8c0","#e02020"]}}
   }},
  {"data": {"name": "boxes"}, "mark": {"type": "rule", "strokeWidth": 2},
   "encoding": {"x": {"field": "x1", "type": "quantitative"}, "y": {"datum": 0}, "y2": {"datum": 6},
    "stroke": {"field": "b", "type": "nominal", "legend": null, "scale": {"domain": ["green","yellow","pink","cyan","red"], "range": ["#3dc43d","#f2d36b","#f4a4a4","#4fb8c0","#e02020"]}}}},
  {"data": {"name": "boxes"}, "mark": {"type": "rule", "strokeWidth": 2},
   "encoding": {"x": {"field": "x2", "type": "quantitative"}, "y": {"datum": 0}, "y2": {"datum": 6},
    "stroke": {"field": "b", "type": "nominal", "legend": null}}},
  {"data": {"name": "boxes"}, "mark": {"type": "rule", "strokeWidth": 2},
   "encoding": {"x": {"field": "x1", "type": "quantitative"}, "x2": {"field": "x2"}, "y": {"datum": 0},
    "stroke": {"field": "b", "type": "nominal", "legend": null}}},
  {"data": {"name": "bottomArrows"}, "mark": {"type": "rule", "strokeWidth": 2},
   "encoding": {"x": {"field": "g1", "type": "quantitative"}, "x2": {"field": "g2"}, "y": {"field": "v1", "type": "quantitative"}, "y2": {"field": "v2"},
    "stroke": {"field": "b", "type": "nominal", "legend": null}}},
  {"data": {"name": "bottomHeads"}, "transform": [{"filter": "datum.b == 'yellow'"}], "mark": {"type": "point", "shape": "triangle", "filled": true, "size": 70, "opacity": 1, "angle": 32},
   "encoding": {"x": {"field": "g", "type": "quantitative"}, "y": {"field": "v", "type": "quantitative"},
    "fill": {"field": "b", "type": "nominal", "legend": null}}},
  {"data": {"name": "bottomHeads"}, "transform": [{"filter": "datum.b == 'pink'"}], "mark": {"type": "point", "shape": "triangle", "filled": true, "size": 70, "opacity": 1, "angle": 36},
   "encoding": {"x": {"field": "g", "type": "quantitative"}, "y": {"field": "v", "type": "quantitative"},
    "fill": {"field": "b", "type": "nominal", "legend": null}}},
  {"data": {"name": "bottomHeads"}, "transform": [{"filter": "datum.b == 'cyan'"}], "mark": {"type": "point", "shape": "triangle", "filled": true, "size": 70, "opacity": 1, "angle": 301},
   "encoding": {"x": {"field": "g", "type": "quantitative"}, "y": {"field": "v", "type": "quantitative"},
    "fill": {"field": "b", "type": "nominal", "legend": null}}},
  {"data": {"name": "bottomNotes"}, "mark": {"type": "text", "font": "Liberation Serif", "fontSize": 17, "align": "center", "baseline": "middle", "color": "#000"},
   "encoding": {"x": {"field": "g", "type": "quantitative"}, "y": {"field": "v", "type": "quantitative"}, "text": {"field": "t"}}},
  {"data": {"name": "rep3"}, "mark": {"type": "text", "font": "Liberation Serif", "fontSize": 21, "align": "center", "baseline": "middle", "angle": 90, "color": "#000"},
   "encoding": {"x": {"field": "g", "type": "quantitative"}, "y": {"field": "v", "type": "quantitative"}, "text": {"field": "t"}}}
 ]
}
]
}
